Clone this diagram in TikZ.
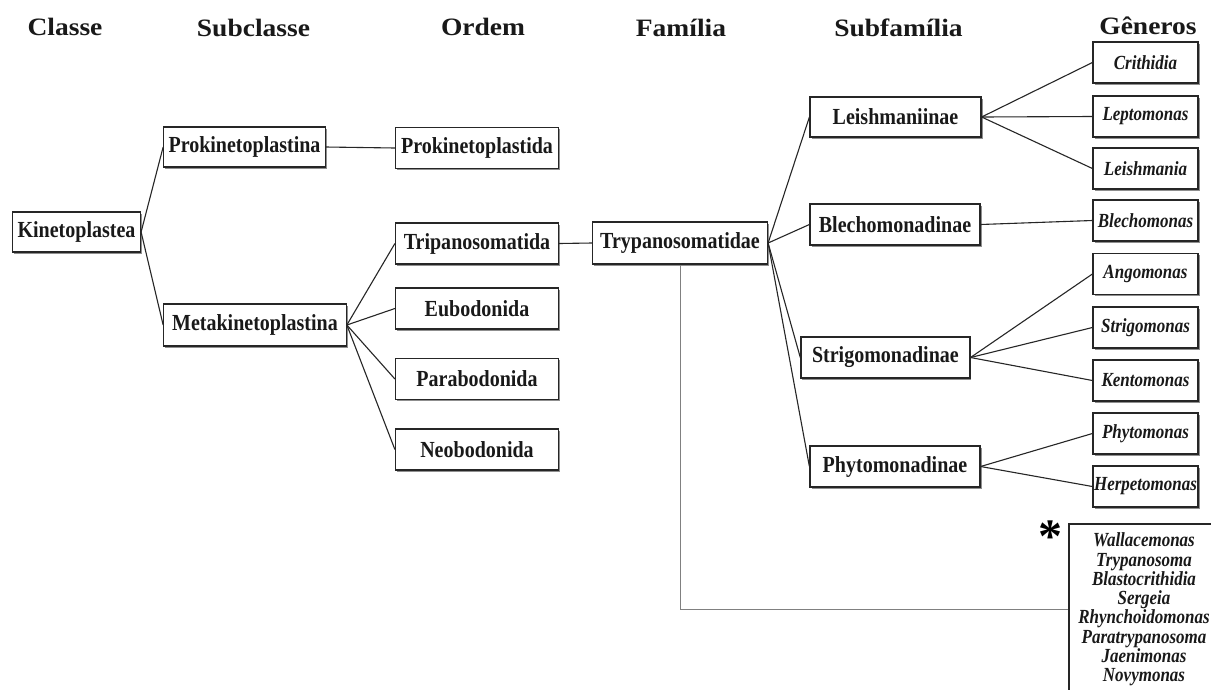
\documentclass[tikz,border=0pt]{standalone}
\usepackage{fontspec}
\setmainfont{Liberation Serif}
\newfontfamily\boxfont{Liberation Serif}[FakeStretch=0.87]
\newfontfamily\genfont{Liberation Serif}[FakeStretch=0.85]
\newfontfamily\titlefont{Liberation Serif}[FakeStretch=1.1]
\usetikzlibrary{shadows}
\tikzset{
 taxbox/.style={draw=black!85, line width=1.2pt, fill=white, inner sep=0pt, text=black!90,
   font=\boxfont\bfseries\fontsize{23}{27}\selectfont,
   drop shadow={shadow xshift=1.5pt, shadow yshift=-1.5pt, fill=black!55, opacity=0.8}},
 genbox/.style={taxbox, font=\genfont\bfseries\itshape\fontsize{20}{24}\selectfont, minimum width=105pt, minimum height=41pt},
 ordbox/.style={taxbox, minimum width=163pt, minimum height=41pt},
 subbox/.style={taxbox, minimum width=170pt, minimum height=41pt},
 coltitle/.style={font=\titlefont\bfseries\fontsize{25}{30}\selectfont, anchor=base, inner sep=0pt, text=black!90},
 link/.style={draw=black!85, line width=1.1pt},
 faint/.style={draw=black!50, line width=0.9pt},
}
\begin{document}
\begin{tikzpicture}[x=1pt,y=-1pt]
\useasboundingbox (0,0) rectangle (1211,689);
\fill[white] (0,0) rectangle (1211,689);
\clip (0,0) rectangle (1211,689);

% column titles
\node[coltitle] (tclasse) at (65,35.5) {Classe};
\node[coltitle] (tsub) at (253.5,36.5) {Subclasse};
\node[coltitle] (tordem) at (483,35.5) {Ordem};
\node[coltitle] (tfam) at (681,36) {Família};
\node[coltitle] (tsubfam) at (898.5,36) {Subfamília};
\node[coltitle] (tgen) at (1148,34.5) {Gêneros};

% class / subclass
\node[taxbox, minimum width=128pt, minimum height=40pt] (kin) at (76.5,232) {Kinetoplastea};
\node[taxbox, minimum width=161.5pt, minimum height=40pt] (prok) at (244.5,147) {Prokinetoplastina};
\node[taxbox, minimum width=182.5pt, minimum height=42pt] (meta) at (255,325) {Metakinetoplastina};

% orders
\node[ordbox] (prokida) at (477,148) {Prokinetoplastida};
\node[ordbox] (trip) at (477,243.5) {Tripanosomatida};
\node[ordbox] (eub) at (477,308.5) {Eubodonida};
\node[ordbox] (para) at (477,379) {Parabodonida};
\node[ordbox] (neo) at (477,449.5) {Neobodonida};

% family
\node[taxbox, minimum width=175pt, minimum height=42pt] (tryp) at (680,243) {Trypanosomatidae};

% subfamilies
\node[subbox, minimum width=171pt, minimum height=40pt] (leish) at (895.5,117) {Leishmaniinae};
\node[subbox] (blech) at (895,224.5) {Blechomonadinae};
\node[subbox, minimum width=169pt] (strig) at (885.4,357.5) {Strigomonadinae};
\node[subbox] (phyto) at (895,466.5) {Phytomonadinae};

% genera
\node[genbox] (crith) at (1145.5,62.5) {Crithidia};
\node[genbox] (lepto) at (1145.5,116.5) {Leptomonas};
\node[genbox] (leishm) at (1145.5,168.5) {Leishmania};
\node[genbox] (blechm) at (1145.5,220.5) {Blechomonas};
\node[genbox] (ango) at (1145.5,274) {Angomonas};
\node[genbox] (strigm) at (1145.5,327.5) {Strigomonas};
\node[genbox] (kento) at (1145.5,380.5) {Kentomonas};
\node[genbox] (phytom) at (1145.5,433.5) {Phytomonas};
\node[genbox] (herp) at (1145.5,486.5) {Herpetomonas};

% other genera
\node[draw=black!85, line width=1.2pt, fill=white, inner sep=0pt, align=center, text=black!90,
      minimum width=150pt, minimum height=171pt,
      font=\genfont\bfseries\itshape\fontsize{20}{19.3}\selectfont] (others) at (1144,609.5)
 {Wallacemonas\\Trypanosoma\\Blastocrithidia\\Sergeia\\Rhynchoidomonas\\Paratrypanosoma\\Jaenimonas\\Novymonas};
\node[font=\bfseries\fontsize{48}{48}\selectfont, anchor=base, inner sep=0pt, text=black] (ast) at (1050,552) {*};

% connectors
\draw[link] (kin.east) -- (prok.west);
\draw[link] (kin.east) -- (meta.west);
\draw[link] (prok.east) -- (prokida.west);
\draw[link] (meta.east) -- (trip.west);
\draw[link] (meta.east) -- (eub.west);
\draw[link] (meta.east) -- (para.west);
\draw[link] (meta.east) -- (neo.west);
\draw[link] (trip.east) -- (tryp.west);
\draw[link] (tryp.east) -- (leish.west);
\draw[link] (tryp.east) -- (blech.west);
\draw[link] (tryp.east) -- (strig.west);
\draw[link] (tryp.east) -- (phyto.west);
\draw[link] (leish.east) -- (crith.west);
\draw[link] (leish.east) -- (lepto.west);
\draw[link] (leish.east) -- (leishm.west);
\draw[link] (blech.east) -- (blechm.west);
\draw[link] (strig.east) -- (ango.west);
\draw[link] (strig.east) -- (strigm.west);
\draw[link] (strig.east) -- (kento.west);
\draw[link] (phyto.east) -- (phytom.west);
\draw[link] (phyto.east) -- (herp.west);
\draw[faint] (tryp.south) |- (others.west);
\end{tikzpicture}
\end{document}
